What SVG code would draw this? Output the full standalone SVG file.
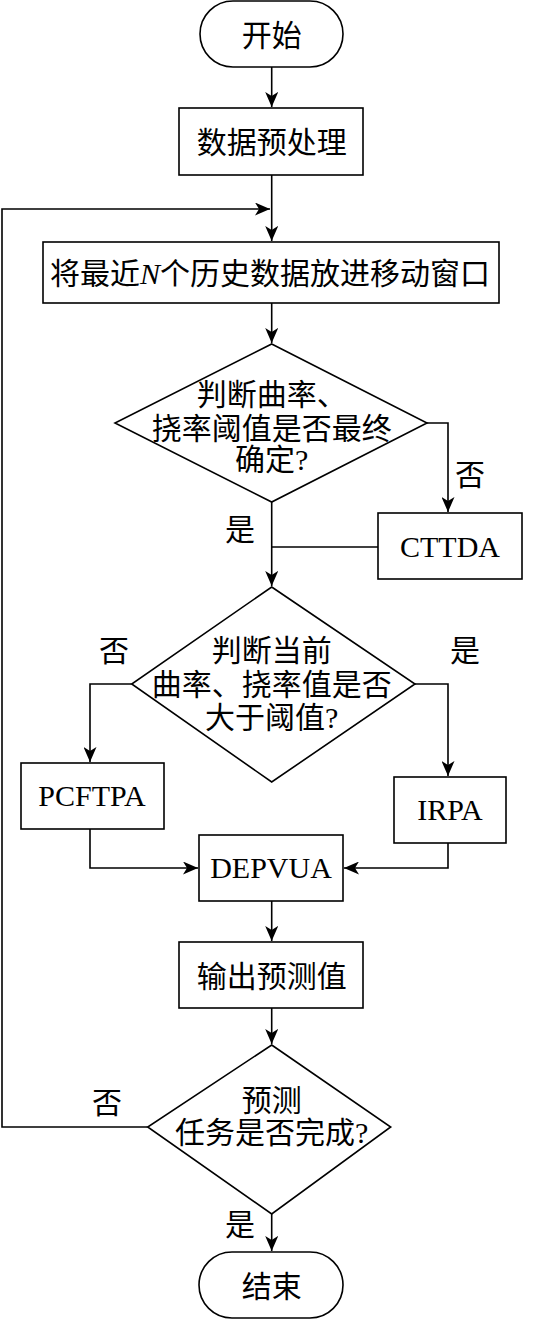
<svg xmlns="http://www.w3.org/2000/svg" width="549" height="1320" viewBox="0 0 549 1320">
<style>
.s{fill:#fff;stroke:#000;stroke-width:1.6}
.c{fill:none;stroke:#000;stroke-width:1.6}
.t{font-family:"Liberation Serif","Noto Sans CJK SC",serif;font-size:30px;fill:#000;text-anchor:middle}
.l{font-family:"Liberation Serif","Noto Sans CJK SC",serif;font-size:30px;fill:#000;text-anchor:middle}
</style>
<defs>
<marker id="a" markerUnits="userSpaceOnUse" markerWidth="16" markerHeight="13" refX="15" refY="6.5" orient="auto">
<path d="M0,0 L15,6.5 L0,13 L4,6.5 Z" fill="#000"/>
</marker>
</defs>
<g id="connectors">
<path class="c" d="M271.7,67 V107" marker-end="url(#a)"/>
<path class="c" d="M271.7,175 V241" marker-end="url(#a)"/>
<path class="c" d="M147.7,1127 H2 V209 H270" marker-end="url(#a)"/>
<path class="c" d="M271.7,303 V343" marker-end="url(#a)"/>
<path class="c" d="M427,423 H448 V512" marker-end="url(#a)"/>
<path class="c" d="M271.7,502 V586" marker-end="url(#a)"/>
<path class="c" d="M378,547 H271.7"/>
<path class="c" d="M131.7,684 H90 V762" marker-end="url(#a)"/>
<path class="c" d="M415,684 H448 V776" marker-end="url(#a)"/>
<path class="c" d="M90,829 V868 H198" marker-end="url(#a)"/>
<path class="c" d="M448,843 V868 H344" marker-end="url(#a)"/>
<path class="c" d="M271.7,901 V941" marker-end="url(#a)"/>
<path class="c" d="M271.7,1008 V1044" marker-end="url(#a)"/>
<path class="c" d="M271.7,1214 V1251" marker-end="url(#a)"/>
<text class="l" x="470" y="485">否</text>
<text class="l" x="240" y="540">是</text>
<text class="l" x="114" y="661">否</text>
<text class="l" x="465" y="661">是</text>
<text class="l" x="107" y="1113">否</text>
<text class="l" x="240" y="1235">是</text>
</g>
<g id="start">
<rect class="s" x="200" y="1" width="143" height="66" rx="33"/>
<text class="t" x="271.7" y="46">开始</text>
</g>
<g id="preprocess">
<rect class="s" x="179" y="108" width="184" height="67"/>
<text class="t" x="271.7" y="153">数据预处理</text>
</g>
<g id="window">
<rect class="s" x="43" y="242" width="456" height="61"/>
<text class="t" x="270" y="284">将最近<tspan font-style="italic">N</tspan>个历史数据放进移动窗口</text>
</g>
<g id="decision1">
<polygon class="s" points="271.7,344 427,423 271.7,502 115,423"/>
<text class="t" x="271.7" y="405">判断曲率、</text>
<text class="t" x="271.7" y="439">挠率阈值是否最终</text>
<text class="t" x="271.7" y="470">确定?</text>
</g>
<g id="cttda">
<rect class="s" x="378" y="513" width="144" height="66"/>
<text class="t" x="450" y="557">CTTDA</text>
</g>
<g id="decision2">
<polygon class="s" points="271.7,587 415,684 271.7,782 131.7,684"/>
<text class="t" x="271.7" y="661">判断当前</text>
<text class="t" x="271.7" y="695">曲率、挠率值是否</text>
<text class="t" x="271.7" y="728">大于阈值?</text>
</g>
<g id="pcftpa">
<rect class="s" x="21" y="763" width="143" height="66"/>
<text class="t" x="92" y="806">PCFTPA</text>
</g>
<g id="irpa">
<rect class="s" x="394" y="777" width="112" height="66"/>
<text class="t" x="450" y="820">IRPA</text>
</g>
<g id="depvua">
<rect class="s" x="199" y="835" width="144" height="66"/>
<text class="t" x="271" y="878">DEPVUA</text>
</g>
<g id="output">
<rect class="s" x="179" y="942" width="184" height="66"/>
<text class="t" x="271.7" y="987">输出预测值</text>
</g>
<g id="decision3">
<polygon class="s" points="271.7,1045 390.7,1127 271.7,1214 147.7,1127"/>
<text class="t" x="271.7" y="1111">预测</text>
<text class="t" x="271.7" y="1143">任务是否完成?</text>
</g>
<g id="end">
<rect class="s" x="199" y="1252" width="144" height="66" rx="33"/>
<text class="t" x="271.7" y="1297">结束</text>
</g>
</svg>
